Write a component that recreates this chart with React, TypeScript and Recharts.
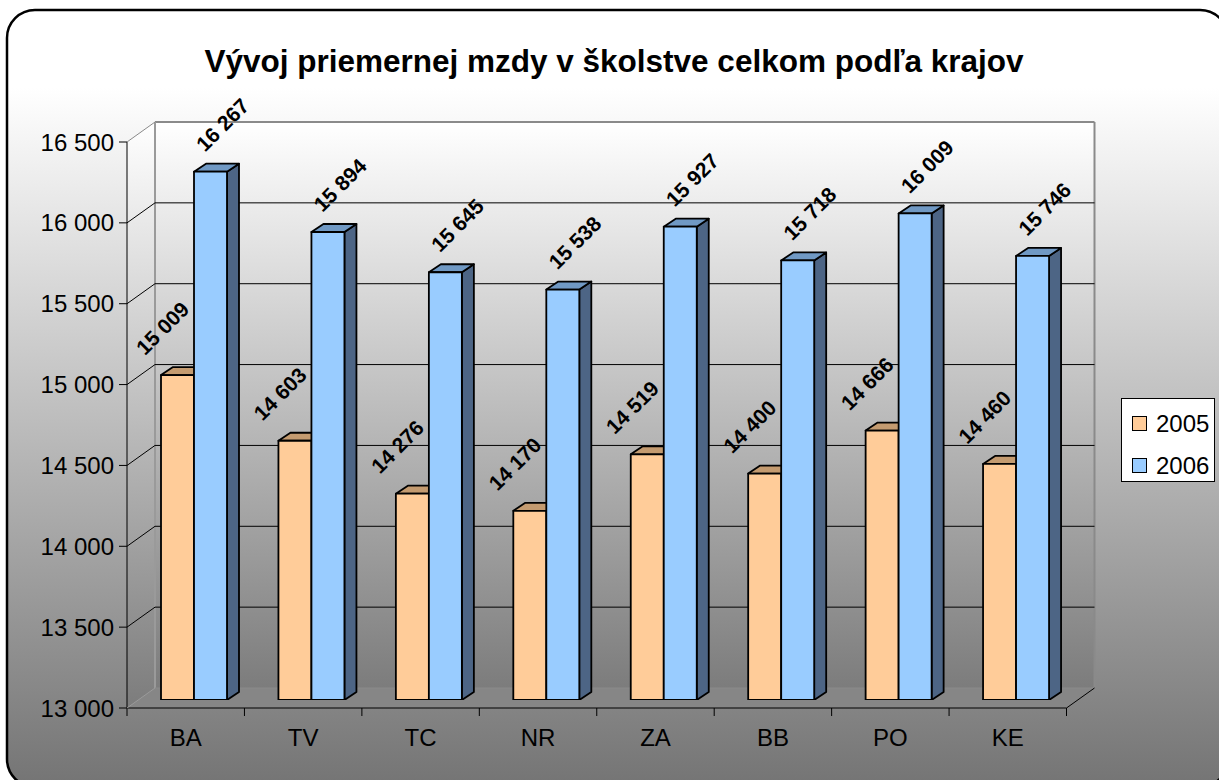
import React from 'react';
import { BarChart, Bar, XAxis, YAxis, CartesianGrid, Legend, LabelList } from 'recharts';

// mzdy podla krajov
const regions = ['BA', 'TV', 'TC', 'NR', 'ZA', 'BB', 'PO', 'KE'];
const wage2005 = [15009, 14603, 14276, 14170, 14519, 14400, 14666, 14460];
const wage2006 = [16267, 15894, 15645, 15538, 15927, 15718, 16009, 15746];
const yTicks = [13000, 13500, 14000, 14500, 15000, 15500, 16000, 16500];
const seriesNames = ['2005', '2006'];
const title = 'Vývoj priemernej mzdy v školstve celkom podľa krajov';

const data = regions.map((r, i) => ({ region: r, y2005: wage2005[i], y2006: wage2006[i] }));

const FONT = 'Arial, "Liberation Sans", sans-serif';
const W = 1219;
const H = 780;

// plot area of the bars (mid depth)
const PL = 135.75;
const PR = 1075.25;
const PT = 134;
const PB = 700;
// front face of the "box" relative to bars, and back wall
const FX = -8.75;
const FY = 8;
const BX = 19.25;
const BY = -12;
// bar depth
const DX = 12;
const DY = -8;

const fmt = (v: number) => String(v).replace(/\B(?=(\d{3})+(?!\d))/g, ' ');

const frontL = PL + FX;
const frontR = PR + FX;
const frontT = PT + FY;
const frontB = PB + FY;
const backL = PL + BX;
const backR = PR + BX;
const backT = PT + BY;
const backB = PB + BY;

const Box3D = (props: any) => {
  const { x, y, width, height, fill, topFill, sideFill } = props;
  if (width == null || height == null) return null;
  const sw = 1.8;
  return (
    <g stroke="#000" strokeWidth={sw} strokeLinejoin="round">
      <polygon
        points={`${x + width},${y} ${x + width + DX},${y + DY} ${x + width + DX},${y + height + DY} ${x + width},${y + height}`}
        fill={sideFill}
      />
      <polygon
        points={`${x},${y} ${x + DX},${y + DY} ${x + width + DX},${y + DY} ${x + width},${y}`}
        fill={topFill}
      />
      <rect x={x} y={y} width={width} height={height} fill={fill} />
    </g>
  );
};

const valueLabel = (dx: number, dy: number) => (props: any) => {
  const { x, y, width, value } = props;
  const cx = x + width / 2 + dx;
  const cy = y + dy;
  return (
    <text
      x={cx}
      y={cy}
      transform={`rotate(-45 ${cx} ${cy})`}
      textAnchor="middle"
      dominantBaseline="central"
      fontFamily={FONT}
      fontWeight="bold"
      fontSize={21}
      fill="#000"
    >
      {fmt(value)}
    </text>
  );
};

const YTick = (props: any) => {
  const { y, payload } = props;
  const v = payload.value;
  const fy = y + FY;
  const by = y + BY;
  let conn = '#000';
  if (v === yTicks[yTicks.length - 1]) conn = '#8a8a8a';
  if (v === yTicks[0]) conn = '#9a9a9a';
  return (
    <g>
      <line x1={frontL} y1={fy} x2={backL} y2={by} stroke={conn} strokeWidth={1} />
      <line x1={frontL - 8} y1={fy} x2={frontL} y2={fy} stroke="#000" strokeWidth={1} />
      <text x={frontL - 13} y={fy} textAnchor="end" dominantBaseline="central" fontFamily={FONT} fontSize={24} fill="#000">
        {fmt(v)}
      </text>
    </g>
  );
};

const XTick = (props: any) => {
  const { x, payload, index } = props;
  const band = (PR - PL) / regions.length;
  const cx = x + FX;
  return (
    <g>
      <line x1={cx - band / 2} y1={frontB} x2={cx - band / 2} y2={frontB + 8} stroke="#000" strokeWidth={1} />
      {index === regions.length - 1 && (
        <line x1={cx + band / 2} y1={frontB} x2={cx + band / 2} y2={frontB + 8} stroke="#000" strokeWidth={1} />
      )}
      <text x={cx} y={frontB + 38} textAnchor="middle" fontFamily={FONT} fontSize={24} fill="#000">
        {payload.value}
      </text>
    </g>
  );
};

const LegendBox = (props: any) => {
  const items = props.payload || [];
  return (
    <div
      style={{
        width: 94,
        height: 84,
        boxSizing: 'border-box',
        background: '#fff',
        border: '1px solid #000',
        fontFamily: FONT,
        fontSize: 24,
        paddingTop: 8,
      }}
    >
      {items.map((it: any) => (
        <div key={it.value} style={{ display: 'flex', alignItems: 'center', height: 33, marginTop: 0, marginBottom: 9 }}>
          <span
            style={{
              display: 'inline-block',
              width: 13,
              height: 13,
              marginLeft: 10,
              marginRight: 9,
              background: it.color,
              border: '1px solid #000',
            }}
          />
          <span>{it.value}</span>
        </div>
      ))}
    </div>
  );
};

const Background = () => (
  <svg width={W} height={H} style={{ position: 'absolute', left: 0, top: 0 }}>
    <defs>
      <linearGradient id="bgGrad" x1="0" y1="0" x2="0" y2="1">
        <stop offset="0.1" stopColor="#ffffff" />
        <stop offset="1" stopColor="#747474" />
      </linearGradient>
      <linearGradient id="wallGrad" x1="0" y1="0" x2="0" y2="1">
        <stop offset="0" stopColor="#ffffff" />
        <stop offset="1" stopColor="#7c7c7c" />
      </linearGradient>
    </defs>
    <rect x={7} y={10} width={1221} height={777} rx={28} ry={28} fill="url(#bgGrad)" stroke="#000" strokeWidth={2.5} />
    <text x={614} y={72} textAnchor="middle" fontFamily={FONT} fontWeight="bold" fontSize={31.5} fill="#000">
      {title}
    </text>
    {/* side wall, back wall, floor */}
    <polygon points={`${frontL},${frontT} ${backL},${backT} ${backL},${backB} ${frontL},${frontB}`} fill="url(#wallGrad)" />
    <rect x={backL} y={backT} width={backR - backL} height={backB - backT} fill="url(#wallGrad)" />
    <polygon points={`${frontL},${frontB} ${backL},${backB} ${backR},${backB} ${frontR},${frontB}`} fill="#868686" />
    <line x1={backL} y1={backT} x2={backR} y2={backT} stroke="#8a8a8a" strokeWidth={2} />
    <line x1={backR} y1={backT} x2={backR} y2={backB} stroke="#8a8a8a" strokeWidth={2} />
    <line x1={backL} y1={backT} x2={backL} y2={backB} stroke="#9a9a9a" strokeWidth={2} />
    <line x1={backL} y1={backB} x2={backR} y2={backB} stroke="#8a8a8a" strokeWidth={1} />
    <line x1={frontL} y1={frontT} x2={frontL} y2={frontB} stroke="#000" strokeWidth={1} />
    <line x1={frontL} y1={frontB} x2={frontR} y2={frontB} stroke="#000" strokeWidth={1.2} />
    <line x1={frontR} y1={frontB} x2={backR} y2={backB} stroke="#000" strokeWidth={1} />
  </svg>
);

export default function App() {
  return (
    <div style={{ position: 'absolute', left: 0, top: 0, width: W, height: H }}>
      <Background />
      <div style={{ position: 'absolute', left: 0, top: 0 }}>
        <BarChart
          width={W}
          height={H}
          data={data}
          margin={{ top: PT, right: W - PR, bottom: 40, left: PL - 100 }}
          barCategoryGap="21.5%"
          barGap={0}
        >
          <CartesianGrid
            vertical={false}
            x={backL}
            width={backR - backL}
            stroke="#000"
            strokeWidth={1}
            horizontalCoordinatesGenerator={({ yAxis }: any) =>
              yTicks
                .filter((t) => t > yTicks[0] && t < yTicks[yTicks.length - 1])
                .map((t) =>
                  yAxis && typeof yAxis.scale === 'function'
                    ? yAxis.scale(t) + BY
                    : PB - ((t - yTicks[0]) / (yTicks[yTicks.length - 1] - yTicks[0])) * (PB - PT) + BY
                )
            }
          />
          <XAxis dataKey="region" height={40} axisLine={false} tickLine={false} tick={<XTick />} interval={0} />
          <YAxis
            width={100}
            domain={[yTicks[0], yTicks[yTicks.length - 1]]}
            ticks={yTicks}
            allowDataOverflow
            axisLine={false}
            tickLine={false}
            tick={<YTick />}
            interval={0}
          />
          <Legend
            layout="vertical"
            align="center"
            verticalAlign="middle"
            wrapperStyle={{ left: 1121, top: 398, width: 94, height: 84 }}
            content={<LegendBox />}
          />
          <Bar
            dataKey="y2005"
            name={seriesNames[0]}
            fill="#ffcc99"
            isAnimationActive={false}
            shape={(p: any) => <Box3D {...p} topFill="#c49b70" sideFill="#a07c58" />}
          >
            <LabelList dataKey="y2005" content={valueLabel(-15, -47)} />
          </Bar>
          <Bar
            dataKey="y2006"
            name={seriesNames[1]}
            fill="#99ccff"
            isAnimationActive={false}
            shape={(p: any) => <Box3D {...p} topFill="#7099c4" sideFill="#4d6585" />}
          >
            <LabelList dataKey="y2006" content={valueLabel(12, -47)} />
          </Bar>
        </BarChart>
      </div>
    </div>
  );
}
